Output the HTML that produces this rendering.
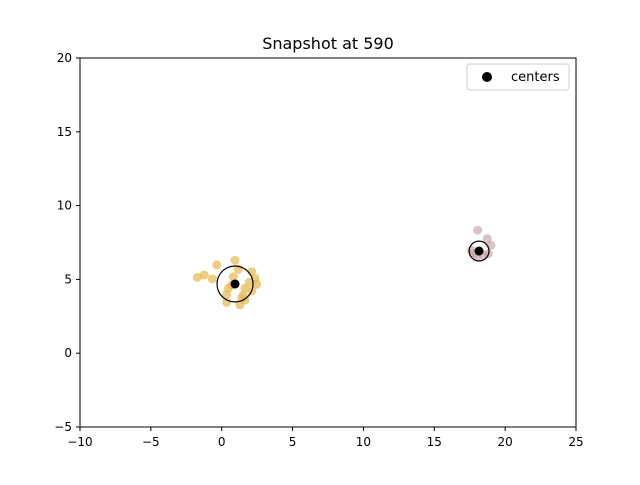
<!DOCTYPE html>
<html><head><meta charset="utf-8"><style>
body{margin:0;background:#fff;font-family:"Liberation Sans","DejaVu Sans",sans-serif}
</style></head><body>
<svg id="c" width="640" height="480" xmlns="http://www.w3.org/2000/svg" style="font-family:'DejaVu Sans','Liberation Sans',sans-serif">
<rect width="640" height="480" fill="#fff"/>
<text x="328" y="49" text-anchor="middle" font-size="16">Snapshot at 590</text>
<g id="ticks"></g>
<g id="marks"></g>
<rect x="80" y="58" width="496" height="369" fill="none" stroke="#000" stroke-width="1"/>
<g>
<rect x="467" y="64" width="102" height="26" rx="3" fill="#fff" stroke="#ccc"/>
<circle cx="487" cy="77" r="5" fill="#000"/>
<text x="511" y="81" font-size="13">centers</text>
</g>
</svg>
<script>
const xTicks=[-10,-5,0,5,10,15,20,25];
const yTicks=[-5,0,5,10,15,20];
const c1x=[-1.72,-1.23,-0.66,-0.35,0.94,1.17,2.12,2.35,2.47,1.95,2.12,1.52,1.64,1.29,0.35,0.47,0.82,0.71,1.64,1.41,0.35];
const c1y=[5.14,5.30,5.03,5.98,6.29,5.68,5.52,5.07,4.67,4.80,4.21,3.94,3.60,3.27,3.45,4.40,5.18,4.62,4.40,3.72,3.99];
const c2x=[18.06,18.74,19.0,18.81,17.75,17.99,18.46,17.64];
const c2y=[8.33,7.76,7.31,6.74,6.74,6.52,6.63,6.97];
const centersX=[0.94,18.16];
const centersY=[4.69,6.92];
const radii=[1.27,0.7];
const X=v=>80+(v+10)*496/35, Y=v=>58+(20-v)*369/25;
const NS="http://www.w3.org/2000/svg";
function mk(t,a,p){const e=document.createElementNS(NS,t);for(const k in a)e.setAttribute(k,a[k]);p.appendChild(e);return e;}
const T=document.getElementById('ticks'),M=document.getElementById('marks');
xTicks.forEach(v=>{const l=mk('line',{x1:X(v),x2:X(v),y1:427,y2:431,stroke:'#000'},T);


const t=mk('text',{x:X(v),y:446,'text-anchor':'middle','font-size':12},T);t.textContent=v<0?'\u2212'+(-v):v;

});
yTicks.forEach(v=>{const l=mk('line',{x1:76,x2:80,y1:Y(v),y2:Y(v),stroke:'#000'},T);


const t=mk('text',{x:72,y:Y(v)+4,'text-anchor':'end','font-size':12},T);t.textContent=v<0?'\u2212'+(-v):v;

});
c1x.forEach((v,i)=>{const e=mk('circle',{cx:X(v),cy:Y(c1y[i]),r:4.5,fill:'#e5b94a','fill-opacity':0.7},M);

});
c2x.forEach((v,i)=>{const e=mk('circle',{cx:X(v),cy:Y(c2y[i]),r:4.5,fill:'#c09a9a','fill-opacity':0.6},M);

});
centersX.forEach((v,i)=>{const r=mk('circle',{cx:X(v),cy:Y(centersY[i]),r:radii[i]*496/35,fill:'none',stroke:'#000','stroke-width':1.2},M);


const e=mk('circle',{cx:X(v),cy:Y(centersY[i]),r:4.5,fill:'#000'},M);

});
</script>
</body></html>
